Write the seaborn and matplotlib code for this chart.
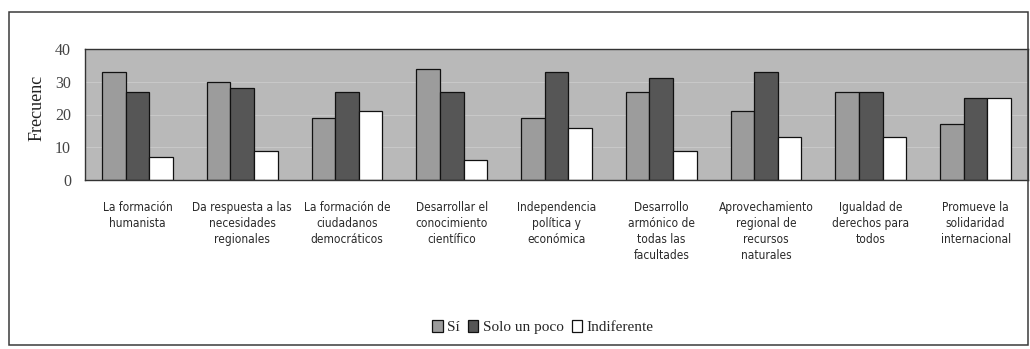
import matplotlib
matplotlib.use("Agg")
import matplotlib.pyplot as plt
from matplotlib.patches import Rectangle, Patch
import seaborn as sns
import pandas as pd

categories = [
    "La formación\nhumanista",
    "Da respuesta a las\nnecesidades\nregionales",
    "La formación de\nciudadanos\ndemocráticos",
    "Desarrollar el\nconocimiento\ncientífico",
    "Independencia\npolítica y\neconómica",
    "Desarrollo\narmónico de\ntodas las\nfacultades",
    "Aprovechamiento\nregional de\nrecursos\nnaturales",
    "Igualdad de\nderechos para\ntodos",
    "Promueve la\nsolidaridad\ninternacional",
]
series_names = ["Sí", "Solo un poco", "Indiferente"]
si = [33, 30, 19, 34, 19, 27, 21, 27, 17]
solo_un_poco = [27, 28, 27, 27, 33, 31, 33, 27, 25]
indiferente = [7, 9, 21, 6, 16, 9, 13, 13, 25]
y_ticks = [0, 10, 20, 30, 40]
y_label = "Frecuenc"

df = pd.DataFrame({
    "categoria": categories * 3,
    "serie": [series_names[0]] * 9 + [series_names[1]] * 9 + [series_names[2]] * 9,
    "valor": si + solo_un_poco + indiferente,
})

sns.set_theme(style="white")
plt.rcParams["font.family"] = ["Liberation Serif", "DejaVu Serif"]

W, H = 1030, 349
fig = plt.figure(figsize=(W / 100, H / 100), dpi=100)
fig.patch.set_facecolor("white")

# outer frame around the whole chart
fig.add_artist(Rectangle((9 / W, 1 - 345 / H), (1028 - 9) / W, (345 - 12) / H,
                         transform=fig.transFigure, fill=False,
                         edgecolor="#3a3a3a", linewidth=1.1))

ax = fig.add_axes([85 / W, 1 - 180 / H, (1028 - 85) / W, (180 - 49) / H])
ax.set_facecolor("#b9b9b9")

colors = ["#9c9c9c", "#565656", "#ffffff"]
sns.barplot(data=df, x="categoria", y="valor", hue="serie", order=categories,
            hue_order=series_names, palette=colors, width=0.675, gap=0,
            edgecolor="#111111", linewidth=0.9, ax=ax, legend=False)

ax.set_ylim(0, 40)
ax.set_yticks(y_ticks)
ax.set_yticklabels([str(t) for t in y_ticks], fontsize=11.5, color="#444444")
ax.yaxis.grid(True, color="#c8c8c8", linewidth=0.8)
ax.set_axisbelow(True)
ax.set_xlim(-0.5, len(categories) - 0.5)
ax.set_xlabel("")
ax.set_ylabel("")
ax.tick_params(axis="y", length=0, pad=10)
ax.tick_params(axis="x", length=0, pad=15)
for lbl in ax.get_xticklabels():
    lbl.set_family(["DejaVu Sans"])
    lbl.set_stretch("condensed")
    lbl.set_fontsize(8.6)
    lbl.set_color("#2a2a2a")
    lbl.set_linespacing(1.3)
    lbl.set_verticalalignment("top")
for side in ["top", "bottom", "left", "right"]:
    ax.spines[side].set_visible(True)
    ax.spines[side].set_color("#333333")
    ax.spines[side].set_linewidth(1.0)

fig.text(37 / W, 1 - 108 / H, y_label, rotation=90, ha="center", va="center",
         fontsize=13, color="#222222")

handles = [Patch(facecolor=c, edgecolor="#111111", linewidth=0.9) for c in colors]
fig.legend(handles, series_names, loc="center", bbox_to_anchor=(543 / W, 1 - 327 / H),
           ncol=3, frameon=False, fontsize=11, handlelength=0.7, handleheight=0.9,
           handletextpad=0.3, columnspacing=0.5)

fig.savefig("out.png", dpi=100, facecolor="white")
